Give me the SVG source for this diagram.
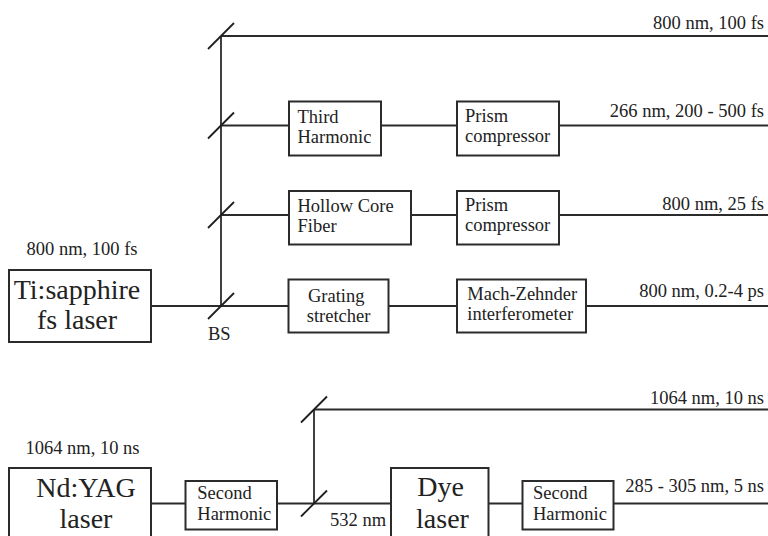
<svg xmlns="http://www.w3.org/2000/svg" width="768" height="536" viewBox="0 0 768 536">
<style>
  .box { fill: #fff; stroke: #2b2b2b; stroke-width: 2; }
  .ln { fill: none; stroke: #2b2b2b; stroke-width: 1.8; }
  .mir { fill: none; stroke: #1e1e1e; stroke-width: 1.8; }
  .t { fill: #222; font-size: 18.5px; }
  .big { font-size: 28px; }
  .lbl { text-anchor: end; }
</style>
<rect width="768" height="536" fill="#fff"/>
<g id="connectors">
  <line class="ln" x1="221" y1="36" x2="221" y2="306"/>
  <line class="ln" x1="221" y1="36" x2="768" y2="36"/>
  <line class="ln" x1="221" y1="125.5" x2="289" y2="125.5"/>
  <line class="ln" x1="381" y1="125.5" x2="457" y2="125.5"/>
  <line class="ln" x1="559" y1="125.5" x2="768" y2="125.5"/>
  <line class="ln" x1="221" y1="215" x2="289" y2="215"/>
  <line class="ln" x1="411" y1="215" x2="457" y2="215"/>
  <line class="ln" x1="559" y1="215" x2="768" y2="215"/>
  <line class="ln" x1="151" y1="306" x2="289" y2="306"/>
  <line class="ln" x1="388" y1="306" x2="457" y2="306"/>
  <line class="ln" x1="586" y1="306" x2="768" y2="306"/>
  <line class="ln" x1="314" y1="409.5" x2="314" y2="503.5"/>
  <line class="ln" x1="314" y1="409.5" x2="768" y2="409.5"/>
  <line class="ln" x1="151" y1="503.5" x2="185" y2="503.5"/>
  <line class="ln" x1="277" y1="503.5" x2="391" y2="503.5"/>
  <line class="ln" x1="488" y1="503.5" x2="522" y2="503.5"/>
  <line class="ln" x1="613" y1="503.5" x2="768" y2="503.5"/>
</g>
<g id="mirrors">
  <line class="mir" x1="208" y1="49" x2="234" y2="23"/>
  <line class="mir" x1="208" y1="138.5" x2="234" y2="112.5"/>
  <line class="mir" x1="208" y1="228" x2="234" y2="202"/>
  <line class="mir" x1="208" y1="319" x2="234" y2="293"/>
  <line class="mir" x1="301" y1="422.5" x2="327" y2="396.5"/>
  <line class="mir" x1="301" y1="516.5" x2="327" y2="490.5"/>
</g>
<g id="nodes" font-family="Liberation Serif, serif">
<g id="ti-sapphire">
  <rect class="box" x="9" y="270" width="142" height="72"/>
  <text class="t big" x="77" y="299" text-anchor="middle">Ti:sapphire</text>
  <text class="t big" x="77" y="328.5" text-anchor="middle">fs laser</text>
  <text class="t" x="82" y="255" text-anchor="middle" font-size="18.3">800 nm, 100 fs</text>
</g>
<g id="bs-label"><text class="t" x="208" y="340">BS</text></g>
<g id="third-harmonic">
  <rect class="box" x="289" y="101.5" width="92" height="54"/>
  <text class="t" x="297.5" y="123">Third</text>
  <text class="t" x="297.5" y="143">Harmonic</text>
</g>
<g id="prism1">
  <rect class="box" x="457" y="101.5" width="102" height="54"/>
  <text class="t" x="465" y="122">Prism</text>
  <text class="t" x="465" y="142">compressor</text>
</g>
<g id="hollow-core">
  <rect class="box" x="289" y="191" width="122" height="53.5"/>
  <text class="t" x="297.5" y="212.3">Hollow Core</text>
  <text class="t" x="297.5" y="232.3">Fiber</text>
</g>
<g id="prism2">
  <rect class="box" x="457" y="191" width="102" height="53.5"/>
  <text class="t" x="465" y="210.7">Prism</text>
  <text class="t" x="465" y="230.7">compressor</text>
</g>
<g id="grating">
  <rect class="box" x="288.5" y="279.5" width="100" height="53"/>
  <text class="t" x="308" y="301.7">Grating</text>
  <text class="t" x="306.7" y="321.7">stretcher</text>
</g>
<g id="mach-zehnder">
  <rect class="box" x="457" y="279.5" width="129" height="53"/>
  <text class="t" x="467.3" y="300">Mach-Zehnder</text>
  <text class="t" x="467.3" y="320">interferometer</text>
</g>
<g id="outputs-top">
  <text class="t lbl" x="764" y="29.3" font-size="20">800 nm, 100 fs</text>
  <text class="t lbl" x="764" y="117.3">266 nm, 200 - 500 fs</text>
  <text class="t lbl" x="764" y="210">800 nm, 25 fs</text>
  <text class="t lbl" x="764" y="296.7">800 nm, 0.2-4 ps</text>
</g>
<g id="ndyag">
  <rect class="box" x="9" y="468" width="142" height="80"/>
  <text class="t big" x="86" y="497" text-anchor="middle" font-size="27">Nd:YAG</text>
  <text class="t big" x="86" y="527.7" text-anchor="middle">laser</text>
  <text class="t" x="82.5" y="454.3" text-anchor="middle" font-size="18.2">1064 nm, 10 ns</text>
</g>
<g id="second-harmonic-1">
  <rect class="box" x="185.5" y="481" width="91.5" height="48.5"/>
  <text class="t" x="197.3" y="499.3">Second</text>
  <text class="t" x="197.3" y="520">Harmonic</text>
</g>
<g id="label-532"><text class="t" x="330" y="525.7">532 nm</text></g>
<g id="dye">
  <rect class="box" x="391" y="468" width="97.5" height="80"/>
  <text class="t big" x="440.5" y="496" text-anchor="middle" font-size="30">Dye</text>
  <text class="t big" x="442.5" y="527.5" text-anchor="middle">laser</text>
</g>
<g id="second-harmonic-2">
  <rect class="box" x="522.5" y="481" width="91" height="48.5"/>
  <text class="t" x="533" y="499.3">Second</text>
  <text class="t" x="533" y="520">Harmonic</text>
</g>
<g id="outputs-bottom">
  <text class="t lbl" x="764" y="404.3">1064 nm, 10 ns</text>
  <text class="t lbl" x="764" y="491.7" font-size="18.8">285 - 305 nm, 5 ns</text>
</g>
</g>
</svg>
